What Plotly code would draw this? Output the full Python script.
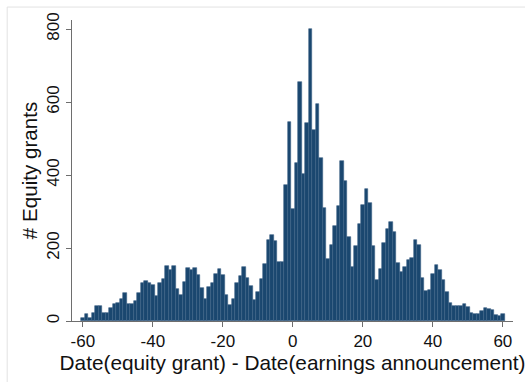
import plotly.graph_objects as go

days = list(range(-60, 61))
grants = [
    8, 20, 9, 22, 42, 40, 22, 23, 36, 47,          # -60..-51
    48, 61, 76, 47, 46, 55, 76, 103, 110, 104,     # -50..-41
    100, 68, 103, 116, 151, 141, 152, 87, 72, 108, # -40..-31
    146, 139, 146, 125, 91, 59, 94, 104, 130, 143, # -30..-21
    125, 71, 44, 61, 103, 123, 148, 119, 95, 57,   # -20..-11
    80, 114, 155, 221, 237, 220, 162, 162, 372, 546,  # -10..-1
    308, 432, 654, 402, 544, 800, 523, 594, 447, 311, # 0..9
    170, 207, 260, 315, 439, 383, 229, 148, 206, 267, # 10..19
    318, 363, 324, 206, 112, 142, 215, 253, 271, 244, # 20..29
    159, 135, 148, 168, 174, 223, 208, 119, 82, 84,   # 30..39
    128, 153, 141, 113, 80, 48, 40, 40, 41, 46,       # 40..49
    38, 22, 20, 18, 27, 36, 33, 31, 16, 14,           # 50..59
    18,                                               # 60
]
x_ticks = [-60, -40, -20, 0, 20, 40, 60]
y_ticks = [0, 200, 400, 600, 800]

FONT = "Arial, Liberation Sans, sans-serif"
AX = "#6e6e6e"

fig = go.Figure(
    go.Bar(
        x=days,
        y=grants,
        width=1,
        marker=dict(color="#1a476f", line=dict(color="#3d6185", width=0.6)),
        hoverinfo="x+y",
    )
)

fig.update_layout(
    template="none",
    width=525,
    height=382,
    margin=dict(l=72, r=12, t=20, b=61, autoexpand=False),
    paper_bgcolor="white",
    plot_bgcolor="white",
    bargap=0,
    showlegend=False,
    font=dict(family=FONT, color="#111111"),
    shapes=[
        dict(type="rect", xref="paper", yref="paper",
             x0=-0.147, x1=1.06, y0=-0.26, y1=1.043,
             line=dict(color="#e2e2e2", width=1), fillcolor="rgba(0,0,0,0)",
             layer="below"),
    ],
)

fig.update_xaxes(
    automargin=False,
    range=[-63.1, 62.9],
    tickvals=x_ticks,
    ticktext=[str(v) for v in x_ticks],
    ticks="outside",
    ticklen=5,
    tickcolor=AX,
    showline=True,
    linecolor=AX,
    linewidth=1,
    showgrid=False,
    zeroline=False,
    tickfont=dict(size=17, family=FONT, color="#111111"),
    title=dict(text="Date(equity grant) - Date(earnings announcement)",
               font=dict(size=20.8, family=FONT, color="#111111"), standoff=0),
)

fig.update_yaxes(
    automargin=False,
    range=[0, 825],
    tickvals=y_ticks,
    ticktext=[str(v) for v in y_ticks],
    tickangle=-90,
    ticks="outside",
    ticklen=5,
    tickcolor=AX,
    showline=True,
    linecolor=AX,
    linewidth=1,
    showgrid=False,
    zeroline=False,
    tickfont=dict(size=17, family=FONT, color="#111111"),
    title=dict(text="# Equity grants",
               font=dict(size=20.6, family=FONT, color="#111111"), standoff=0),
)

fig.write_html(
    "out.html",
    config={"displayModeBar": False},
    post_script="document.body.style.margin='0';document.body.style.padding='0';",
)
